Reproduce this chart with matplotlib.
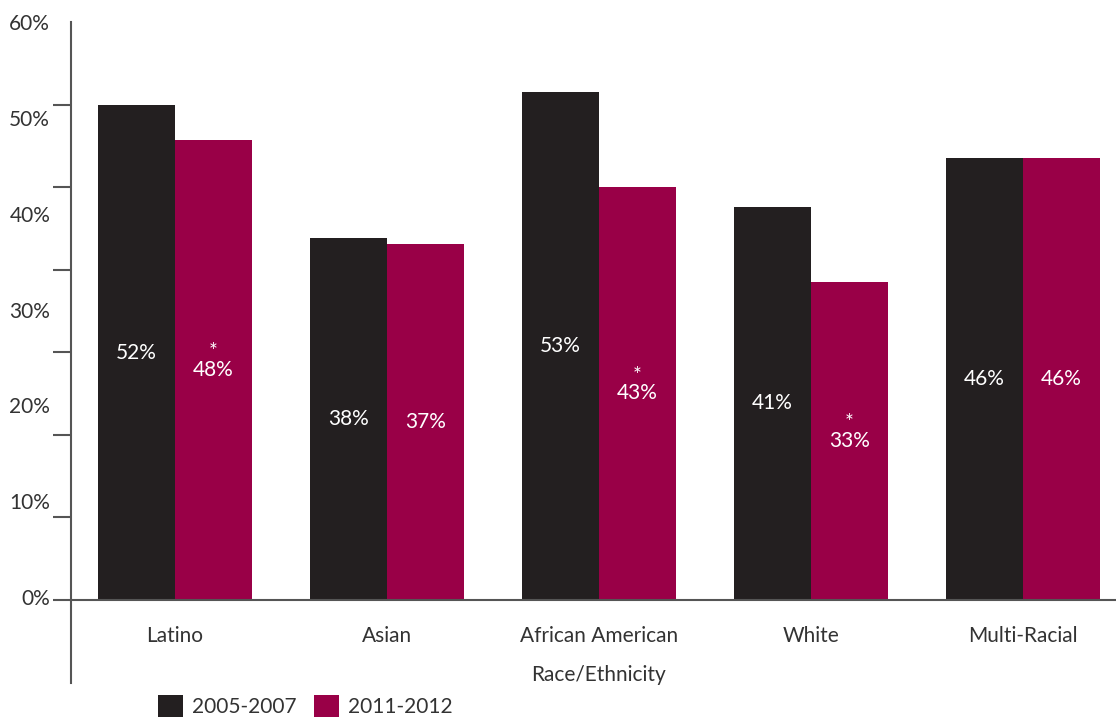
import numpy as np
import matplotlib
matplotlib.use("Agg")
import matplotlib.pyplot as plt

plt.rcParams['font.family'] = ['Lato', 'DejaVu Sans']

# data
groups = ["Latino", "Asian", "African American", "White", "Multi-Racial"]
series_names = ["2005-2007", "2011-2012"]
vals_2005 = [51.6, 37.8, 53.0, 41.0, 46.1]
vals_2011 = [48.0, 37.1, 43.1, 33.2, 46.1]
significant_2011 = [True, False, True, True, False]
y_tick_labels = ["0%", "10%", "20%", "30%", "40%", "50%", "60%"]

dark = "#231f20"
berry = "#990047"
axis_gray = "#555555"
text_gray = "#333333"
fs = 15

fig = plt.figure(figsize=(11.16, 7.17), dpi=100)
ax = fig.add_axes([71 / 1116, 1 - 683 / 717, 1 - 71 / 1116, (683 - 22) / 717])

ymin, ymax = -8.66, 60.3
ax.set_ylim(ymin, ymax)
ax.set_xlim(-0.49, 4.44)

x = np.arange(len(groups))
w = 0.363
b1 = ax.bar(x - w / 2, vals_2005, w, color=dark, label=series_names[0])
b2 = ax.bar(x + w / 2, vals_2011, w, color=berry, label=series_names[1])

# value labels in the middle of each bar
for rect, v in zip(b1, vals_2005):
    ax.text(rect.get_x() + rect.get_width() / 2, v / 2, f"{v:.0f}%",
            ha="center", va="center", color="white", fontsize=fs)
for rect, v, sig in zip(b2, vals_2011, significant_2011):
    cx = rect.get_x() + rect.get_width() / 2
    if sig:
        # star sits on the line above the value
        ax.annotate(f"*\n{v:.0f}%", (cx, v / 2), xytext=(0, -7),
                    textcoords="offset points", ha="center", va="bottom",
                    color="white", fontsize=fs, linespacing=0.85,
                    multialignment="center")
    else:
        ax.text(cx, v / 2, f"{v:.0f}%", ha="center", va="center",
                color="white", fontsize=fs)

# spines
for s in ["top", "right"]:
    ax.spines[s].set_visible(False)
ax.spines["bottom"].set_position(("data", 0))
ax.spines["bottom"].set_color(axis_gray)
ax.spines["bottom"].set_linewidth(1.5)
ax.spines["left"].set_color(axis_gray)
ax.spines["left"].set_linewidth(1.5)

# y labels and tick marks do not line up in the original
ax.set_yticks(np.linspace(0.3, ymax, len(y_tick_labels)))
ax.set_yticklabels(y_tick_labels, fontsize=fs, color=text_gray)
ax.tick_params(axis="y", which="major", length=0, pad=15)
ax.set_yticks(np.linspace(0, ymax, 8), minor=True)
ax.tick_params(axis="y", which="minor", length=13, width=1.5, color=axis_gray)

ax.set_xticks(x)
ax.set_xticklabels(groups, fontsize=fs, color=text_gray)
ax.tick_params(axis="x", length=0, pad=19)

ax.text(2, -7.8, "Race/Ethnicity", ha="center", va="center",
        fontsize=fs, color=text_gray)

fig.legend(loc="lower left", bbox_to_anchor=(158 / 1116, 0.0), ncol=2,
           frameon=False, fontsize=fs, handlelength=1.2, handleheight=1.2,
           handletextpad=0.45, columnspacing=0.8, borderpad=0, borderaxespad=0,
           labelcolor=text_gray)

fig.savefig("out.png", dpi=100)
